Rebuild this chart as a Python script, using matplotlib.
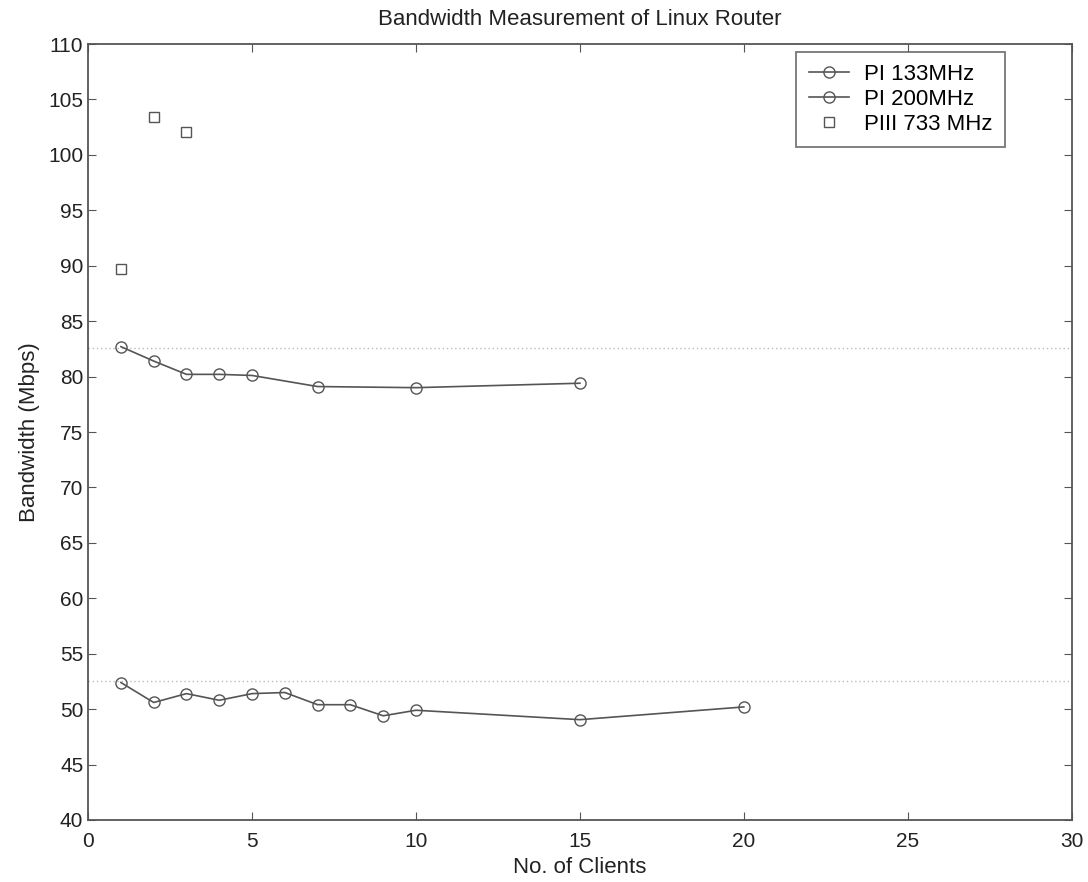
import numpy as np
import matplotlib.pyplot as plt

# Datos

clientes_133 = [1, 2, 3, 4, 5, 6, 7, 8, 9, 10, 15, 20]
ancho_133 = [52.4, 50.6, 51.4, 50.8, 51.4, 51.5, 50.4, 50.4, 49.4, 49.9, 49.05, 50.2]

clientes_200 = [1, 2, 3, 4, 5, 7, 10, 15]
ancho_200 = [82.7, 81.4, 80.2, 80.2, 80.1, 79.1, 79.0, 79.4]

clientes_733 = [1, 2, 3]
ancho_733 = [89.7, 103.4, 102.1]

# Líneas de referencia punteadas
referencias = [82.6, 52.5]

plt.rcParams['font.family'] = ['Liberation Sans', 'DejaVu Sans']

fig = plt.figure(figsize=(10.88, 8.82), dpi=100)
ax = fig.add_axes([0.081, 0.0703, 0.904, 0.8798])

gris = '#555555'
for yref in referencias:
    ax.axhline(yref, color='#bbbbbb', linestyle=(0, (1, 2)), linewidth=1.0, zorder=1)

ax.plot(clientes_200, ancho_200, '-o', color=gris, markerfacecolor='none',
        markersize=8, linewidth=1.2, label='PI 133MHz')
ax.plot(clientes_133, ancho_133, '-o', color=gris, markerfacecolor='none',
        markersize=8, linewidth=1.2, label='PI 200MHz')
ax.plot(clientes_733, ancho_733, 's', color=gris, markerfacecolor='none',
        markersize=6.5, linewidth=1.2, label='PIII 733 MHz')

ax.set_xlim(0, 30)
ax.set_ylim(40, 110)
ax.set_xticks(np.arange(0, 31, 5))
ax.set_yticks(np.arange(40, 111, 5))
ax.tick_params(direction='in', top=True, right=True, labelsize=15,
               length=6, color=gris, labelcolor='#222222')
ax.tick_params(axis='x', pad=9)
for s in ax.spines.values():
    s.set_color(gris)
    s.set_linewidth(1.3)

ax.set_title('Bandwidth Measurement of Linux Router', fontsize=16, pad=14,
             color='#222222')
ax.set_xlabel('No. of Clients', fontsize=16, labelpad=4, color='#222222')
ax.set_ylabel('Bandwidth (Mbps)', fontsize=16, labelpad=6, color='#222222')

leg = ax.legend(loc='upper right', bbox_to_anchor=(0.932, 0.99), fontsize=16,
                frameon=True, fancybox=False, edgecolor=gris, handlelength=1.8,
                handletextpad=0.7, borderpad=0.55, labelspacing=0.18,
                borderaxespad=0)
leg.get_frame().set_linewidth(1.3)

fig.savefig('out.png', dpi=100)
